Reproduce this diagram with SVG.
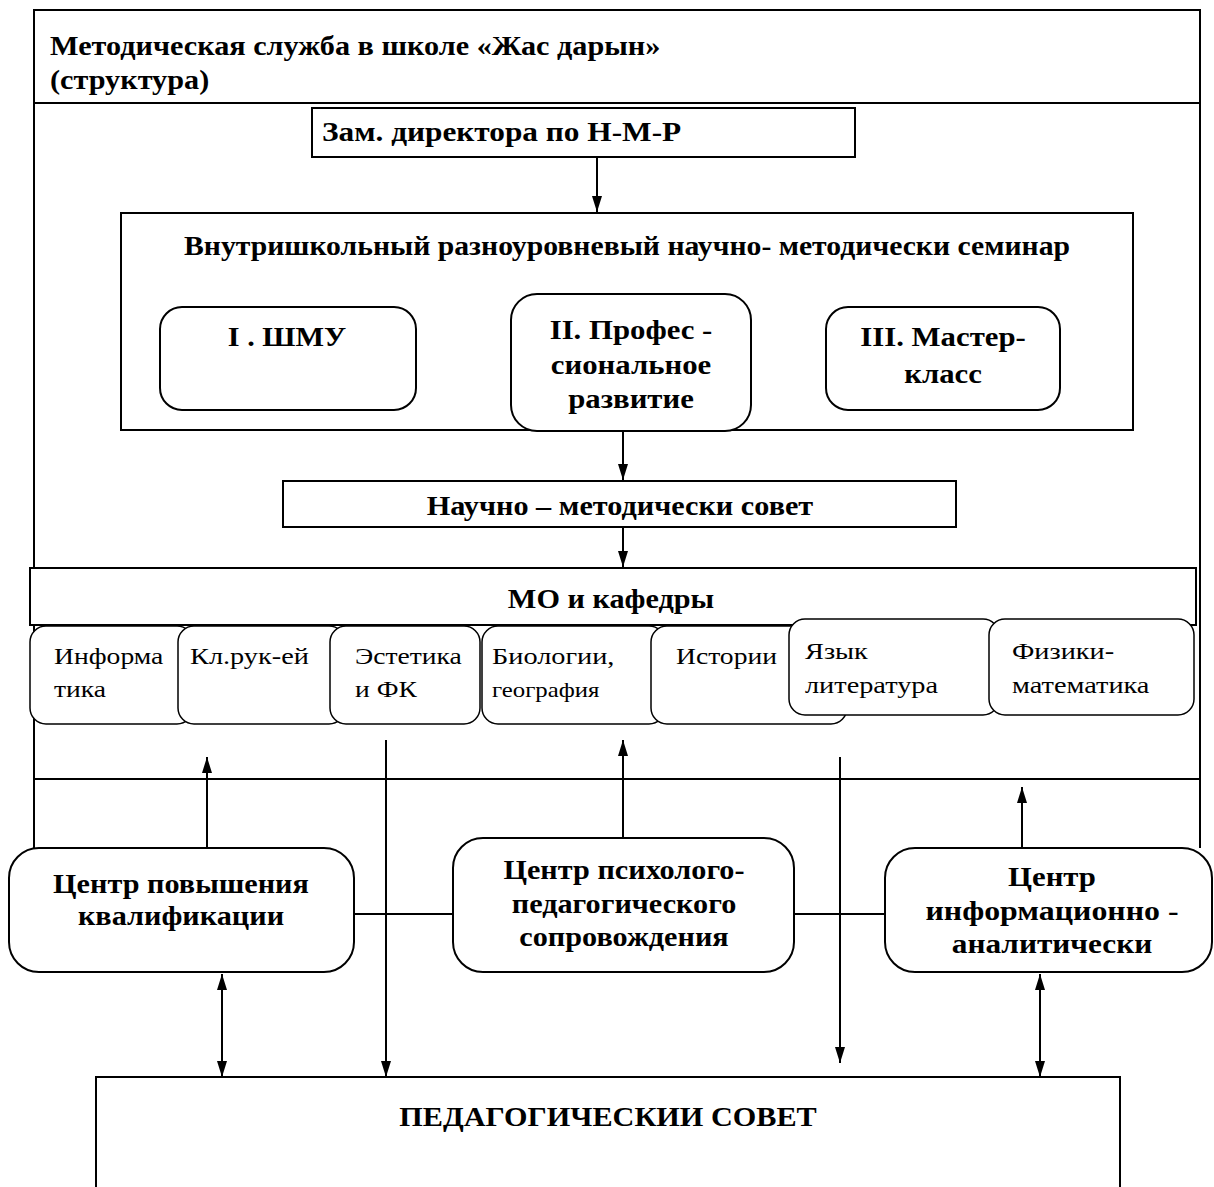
<svg xmlns="http://www.w3.org/2000/svg" width="1214" height="1187" viewBox="0 0 1214 1187">
<style>
.b{fill:#fff;stroke:#000;stroke-width:2}
.s{fill:#fff;stroke:#000;stroke-width:1.5}
.t{font-family:"Liberation Serif","Times New Roman",serif;font-weight:bold;font-size:27px;fill:#000}
.tc{font-family:"Liberation Serif","Times New Roman",serif;font-weight:bold;font-size:27px;fill:#000;text-anchor:middle}
.n{font-family:"Liberation Serif","Times New Roman",serif;font-size:24px;fill:#000}
.l{stroke:#000;stroke-width:2;fill:none}
</style>
<defs>
<marker id="ah" viewBox="0 0 16 10" refX="16" refY="5" markerWidth="16" markerHeight="10" markerUnits="userSpaceOnUse" orient="auto-start-reverse"><path d="M0,0L16,5L0,10z" fill="#000"/></marker>
</defs>
<rect width="1214" height="1187" fill="#fff"/>
<g id="frame">
<rect class="b" x="34" y="10" width="1166" height="93"/>
<path class="l" d="M34,103V848M1200,103V848M34,779H1200"/>
</g>
<g id="title">
<text class="t" transform="translate(50 55) scale(1.12 1)">Методическая служба в школе «Жас дарын»</text>
<text class="t" transform="translate(50 89) scale(1.12 1)">(структура)</text>
</g>
<g id="connectors">
<path class="l" d="M597,158V212" marker-end="url(#ah)"/>
<path class="l" d="M623,431V480" marker-end="url(#ah)"/>
<path class="l" d="M623,527V567" marker-end="url(#ah)"/>
<path class="l" d="M207,848V757" marker-end="url(#ah)"/>
<path class="l" d="M623,838V740" marker-end="url(#ah)"/>
<path class="l" d="M1022,848V787" marker-end="url(#ah)"/>
<path class="l" d="M386,740V1077" marker-end="url(#ah)"/>
<path class="l" d="M840,757V1063" marker-end="url(#ah)"/>
<path class="l" d="M222,974V1077" marker-start="url(#ah)" marker-end="url(#ah)"/>
<path class="l" d="M1040,974V1077" marker-start="url(#ah)" marker-end="url(#ah)"/>
<path class="l" d="M354,914H453M794,914H885"/>
</g>
<g id="zam">
<rect class="b" x="312" y="108" width="543" height="49"/>
<text class="t" transform="translate(322 141) scale(1.16 1)">Зам. директора по Н-М-Р</text>
</g>
<g id="seminar">
<rect class="b" x="121" y="213" width="1012" height="217"/>
<text class="tc" transform="translate(627 255) scale(1.1 1)">Внутришкольный разноуровневый научно- методически семинар</text>
</g>
<g id="shmu">
<rect class="b" x="160" y="307" width="256" height="103" rx="22"/>
<text class="tc" transform="translate(287 346) scale(1.12 1)">I . ШМУ</text>
</g>
<g id="prof">
<rect class="b" x="511" y="294" width="240" height="137" rx="26"/>
<text class="tc" transform="translate(631 339) scale(1.14 1)">II. Профес -</text>
<text class="tc" transform="translate(631 374) scale(1.14 1)">сиональное</text>
<text class="tc" transform="translate(631 408) scale(1.14 1)">развитие</text>
</g>
<g id="master">
<rect class="b" x="826" y="307" width="234" height="103" rx="22"/>
<text class="tc" transform="translate(943 346) scale(1.14 1)">III. Мастер-</text>
<text class="tc" transform="translate(943 383) scale(1.14 1)">класс</text>
</g>
<g id="nms">
<rect class="b" x="283" y="481" width="673" height="46"/>
<text class="tc" transform="translate(620 515) scale(1.12 1)">Научно – методически совет</text>
</g>
<g id="mo">
<rect class="b" x="30" y="568" width="1166" height="57"/>
<text class="tc" transform="translate(611 608) scale(1.12 1)">МО и кафедры</text>
</g>
<g id="inf">
<rect class="s" x="30" y="626" width="163" height="98" rx="16"/>
<text class="n" transform="translate(54 664) scale(1.15 1)">Информа</text>
<text class="n" transform="translate(54 697) scale(1.15 1)">тика</text>
</g>
<g id="kl">
<rect class="s" x="178" y="626" width="167" height="98" rx="16"/>
<text class="n" transform="translate(190 664) scale(1.18 1)">Кл.рук-ей</text>
</g>
<g id="est">
<rect class="s" x="330" y="626" width="150" height="98" rx="16"/>
<text class="n" transform="translate(355 664) scale(1.15 1)">Эстетика</text>
<text class="n" transform="translate(355 697) scale(1.15 1)">и ФК</text>
</g>
<g id="bio">
<rect class="s" x="482" y="626" width="183" height="98" rx="16"/>
<text class="n" transform="translate(492 664) scale(1.18 1)">Биологии,</text>
<text class="n" transform="translate(492 697) scale(1.18 1)" style="font-size:21px">география</text>
</g>
<g id="ist">
<rect class="s" x="651" y="626" width="196" height="98" rx="16"/>
<text class="n" transform="translate(676 664) scale(1.15 1)">Истории</text>
</g>
<g id="yaz">
<rect class="s" x="789" y="619" width="210" height="96" rx="16"/>
<text class="n" transform="translate(805 659) scale(1.18 1)">Язык</text>
<text class="n" transform="translate(805 693) scale(1.18 1)">литература</text>
</g>
<g id="fiz">
<rect class="s" x="989" y="619" width="205" height="96" rx="16"/>
<text class="n" transform="translate(1012 659) scale(1.18 1)">Физики-</text>
<text class="n" transform="translate(1012 693) scale(1.18 1)">математика</text>
</g>
<g id="cpk">
<rect class="b" x="9" y="848" width="345" height="124" rx="30"/>
<text class="tc" transform="translate(181 893) scale(1.12 1)">Центр повышения</text>
<text class="tc" transform="translate(181 925) scale(1.12 1)">квалификации</text>
</g>
<g id="cpps">
<rect class="b" x="453" y="838" width="341" height="134" rx="30"/>
<text class="tc" transform="translate(624 879) scale(1.12 1)">Центр психолого-</text>
<text class="tc" transform="translate(624 913) scale(1.12 1)">педагогического</text>
<text class="tc" transform="translate(624 946) scale(1.12 1)">сопровождения</text>
</g>
<g id="cia">
<rect class="b" x="885" y="848" width="327" height="124" rx="30"/>
<text class="tc" transform="translate(1052 886) scale(1.14 1)">Центр</text>
<text class="tc" transform="translate(1052 920) scale(1.18 1)">информационно -</text>
<text class="tc" transform="translate(1052 953) scale(1.16 1)">аналитически</text>
</g>
<g id="ped">
<path class="b" d="M96,1190V1077H1120V1190"/>
<text class="tc" transform="translate(608 1126) scale(1.12 1)">ПЕДАГОГИЧЕСКИИ СОВЕТ</text>
</g>
</svg>
